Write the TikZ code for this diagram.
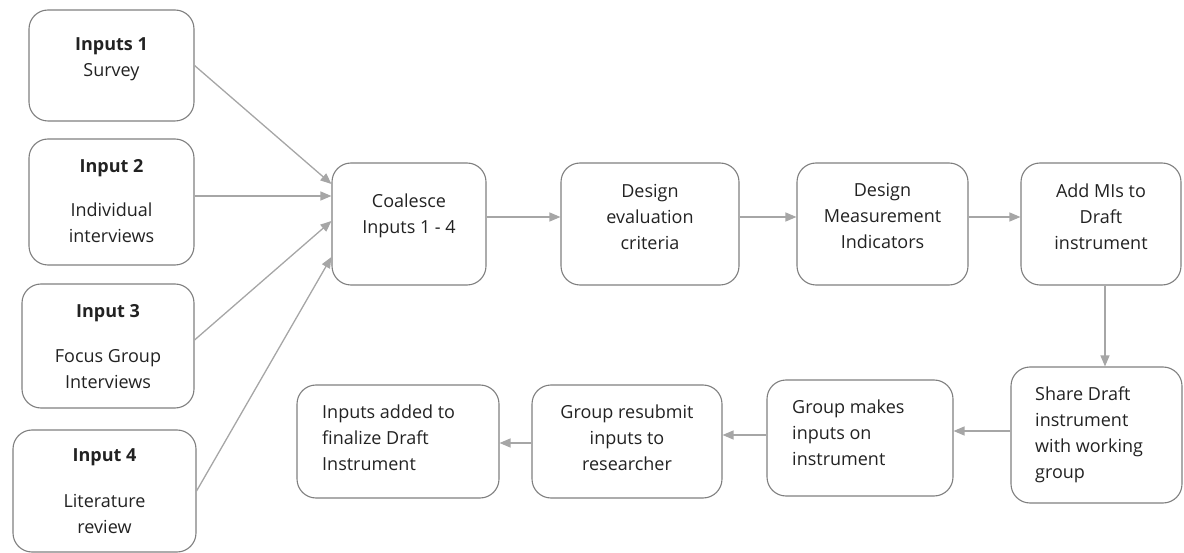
\documentclass[tikz,border=0pt]{standalone}
\usepackage{fontspec}
\setmainfont{Open Sans}
\usetikzlibrary{arrows.meta,calc}
\definecolor{boxline}{HTML}{7F7F7F}
\definecolor{arrline}{HTML}{A6A6A6}
\definecolor{txt}{HTML}{222222}
\tikzset{
  box/.style={draw=boxline, line width=1.1pt, rounded corners=19pt, inner sep=0pt},
  lbl/.style={inner sep=0pt, anchor=north, align=center, text=txt,
    font=\fontsize{18}{26}\selectfont},
  lblL/.style={lbl, anchor=north west, align=left},
  arr/.style={draw=arrline, line width=1.3pt, -{Triangle[length=11pt,width=9pt]}},
}
\newcommand{\boxat}[5]{% name, x1, y1, x2, y2
  \node[box, minimum width={#4-#2}, minimum height={#5-#3}] (#1) at ({(#2+#4)/2},{(#3+#5)/2}) {};}
\begin{document}
\begin{tikzpicture}[x=1pt,y=-1pt]
\useasboundingbox (0,0) rectangle (1184,553);

% source boxes
\boxat{in1}{29}{10}{194}{121}
\boxat{in2}{29}{139}{194}{265}
\boxat{in3}{22}{284}{194}{408}
\boxat{in4}{13}{430}{196}{552}

% main row
\boxat{coal}{332}{163}{486}{285}
\boxat{deval}{561}{163}{739}{285}
\boxat{dmi}{797}{163}{968}{285}
\boxat{addmi}{1021}{163}{1181}{285}

% return row
\boxat{share}{1011}{367}{1182}{503}
\boxat{gmake}{767}{380}{953}{496}
\boxat{gresub}{532}{385}{722}{498}
\boxat{iadded}{297}{385}{499}{498}

% labels
\node[lbl] (t1) at (111.5,32) {\strut\textbf{Inputs 1}\\Survey};
\node[lbl] (t2) at (111.5,154) {\strut\textbf{Input 2}\\[18pt]Individual\\interviews};
\node[lbl] (t3) at (108,299) {\strut\textbf{Input 3}\\[19pt]Focus Group\\Interviews};
\node[lbl] (t4) at (104.5,443) {\strut\textbf{Input 4}\\[20pt]Literature\\review};
\node[lbl] (tc) at (409,189) {\strut Coalesce\\Inputs 1 - 4};
\node[lbl] (te) at (650,179) {\strut Design\\evaluation\\criteria};
\node[lbl] (tm) at (882.5,178) {\strut Design\\Measurement\\Indicators};
\node[lbl] (ta) at (1101,179) {\strut Add MIs to\\Draft\\instrument};
\node[lblL] (ts) at (1035,382) {\strut Share Draft\\instrument\\with working\\group};
\node[lblL] (tg) at (792,395) {\strut Group makes\\inputs on\\instrument};
\node[lbl] (tr) at (627,400) {\strut Group resubmit\\inputs to\\researcher};
\node[lblL] (ti) at (322,400) {\strut Inputs added to\\finalize Draft\\Instrument};

% inputs converge on the coalesce step
\draw[arr] (in1.east) -- ([yshift=40pt]coal.west);
\draw[arr] ([yshift=6pt]in2.east) -- ([yshift=28pt]coal.west);
\draw[arr] ([yshift=6pt]in3.east) -- ([yshift=3pt]coal.west);
\draw[arr] (in4.east) -- ([yshift=-33pt]coal.west);

% forward chain
\draw[arr] ([yshift=7pt]coal.east) -- ([yshift=7pt]coal.east -| deval.west);
\draw[arr] ([yshift=7pt]deval.east) -- ([yshift=7pt]deval.east -| dmi.west);
\draw[arr] ([yshift=7pt]dmi.east) -- ([yshift=7pt]dmi.east -| addmi.west);
\draw[arr] ([xshift=4pt]addmi.south) -- ([xshift=4pt]addmi.south |- share.north);

% return chain
\draw[arr] ([yshift=4pt]share.west) -- ([yshift=4pt]share.west -| gmake.east);
\draw[arr] ([yshift=3pt]gmake.west) -- ([yshift=3pt]gmake.west -| gresub.east);
\draw[arr] ([yshift=-1.5pt]gresub.west) -- ([yshift=-1.5pt]gresub.west -| iadded.east);
\end{tikzpicture}
\end{document}
